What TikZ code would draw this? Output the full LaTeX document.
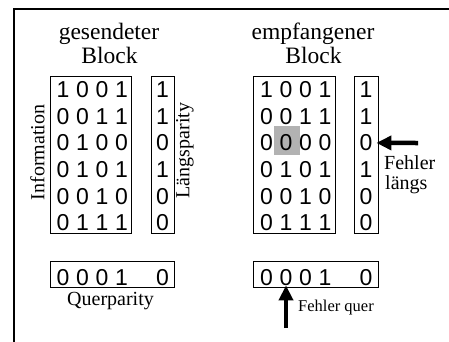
\documentclass[tikz,border=0pt]{standalone}
\usepackage{fontspec}
\setmainfont{Liberation Serif}
\setsansfont{Liberation Sans}
\usetikzlibrary{arrows.meta,positioning}

\tikzset{
  bitbox/.style={draw,line width=0.8pt,inner sep=0pt},
  bit/.style={font=\sffamily\fontsize{23}{23}\selectfont,inner sep=0pt},
  headline/.style={font=\fontsize{23.5}{26}\selectfont,inner sep=0pt,anchor=base},
  sidelabel/.style={font=\fontsize{20}{20}\selectfont,rotate=90,inner sep=0pt},
  notelabel/.style={font=\fontsize{20}{20}\selectfont,inner sep=0pt,anchor=base west},
  fatarrow/.style={line width=4.5pt,-{Triangle[length=15pt,width=14pt]}},
}

\begin{document}
\begin{tikzpicture}[x=1pt,y=1pt,yscale=-1,xscale=1]
\useasboundingbox (0,0) rectangle (449,341);

%frame
\coordinate (frameTR) at (452,9);
\coordinate (frameTL) at (14,9);
\coordinate (frameBL) at (14,344);
\draw[line width=2pt] (frameTR) -- (frameTL) -- (frameBL);

%headings
\node[headline] (sendHead) at (109,39) {gesendeter};
\node[headline] (sendBlock) at (109.5,63) {Block};
\node[headline] (recvHead) at (313,39) {empfangener};
\node[headline] (recvBlock) at (313.5,63) {Block};

%boxes
\node[bitbox,minimum width=81,minimum height=157] (sinfo) at (90.5,154.5) {};
\node[bitbox,minimum width=23,minimum height=157] (spar) at (162.5,154.5) {};
\node[bitbox,minimum width=124,minimum height=26] (squer) at (112,274) {};
\node[bitbox,minimum width=82,minimum height=157] (rinfo) at (294,154.5) {};
\node[bitbox,minimum width=24,minimum height=157] (rpar) at (366,154.5) {};
\node[bitbox,minimum width=125,minimum height=26] (rquer) at (315.5,274) {};

%faulty bit
\fill[black!30] (274,126) rectangle (300,155);

%sent block
\foreach \bits [count=\i] in {{1,0,0,1},{0,0,1,1},{0,1,0,0},{0,1,0,1},{0,0,1,0},{0,1,1,1}}{
  \foreach \b [count=\j] in \bits
    \node[bit] (s\i\j) at ({63+19.5*(\j-1)},{89.5+26.7*(\i-1)}) {\b};
}
\foreach \p [count=\i] in {1,1,0,1,0,0}
  \node[bit] (sp\i) at (162.5,{89.5+26.7*(\i-1)}) {\p};
\foreach \q [count=\j] in {0,0,0,1}
  \node[bit] (sq\j) at ({63+19.5*(\j-1)},277.5) {\q};
\node[bit] (sqp) at (162.5,277.5) {0};

%received block
\foreach \bits [count=\i] in {{1,0,0,1},{0,0,1,1},{0,0,0,0},{0,1,0,1},{0,0,1,0},{0,1,1,1}}{
  \foreach \b [count=\j] in \bits
    \node[bit] (r\i\j) at ({266.5+19.5*(\j-1)},{89.5+26.7*(\i-1)}) {\b};
}
\foreach \p [count=\i] in {1,1,0,1,0,0}
  \node[bit] (rp\i) at (366,{89.5+26.7*(\i-1)}) {\p};
\foreach \q [count=\j] in {0,0,0,1}
  \node[bit] (rq\j) at ({266.5+19.5*(\j-1)},277.5) {\q};
\node[bit] (rqp) at (366,277.5) {0};

%labels
\node[sidelabel] (infoLabel) at (37.5,152.5) {Information};
\node[sidelabel] (laengsLabel) at (185,150.5) {Längsparity};
\node[font=\fontsize{20}{20}\selectfont,inner sep=0pt,anchor=base] (querLabel) at (110.5,305) {Querparity};

%error marks
\coordinate (laengsTail) at (418,143);
\draw[fatarrow,shorten >=-2pt] (laengsTail) -- (rpar.east |- rp3);
\node[notelabel] (fehlerA) at (384,169.5) {Fehler};
\node[notelabel] (fehlerB) at (385,189) {längs};

\coordinate (querTail) at (286,328);
\draw[fatarrow,shorten >=-2pt] (querTail) -- (rquer.south -| rq2);
\node[notelabel,font=\fontsize{16.5}{16.5}\selectfont] (fehlerQuer) at (298,311) {Fehler quer};

\end{tikzpicture}
\end{document}
